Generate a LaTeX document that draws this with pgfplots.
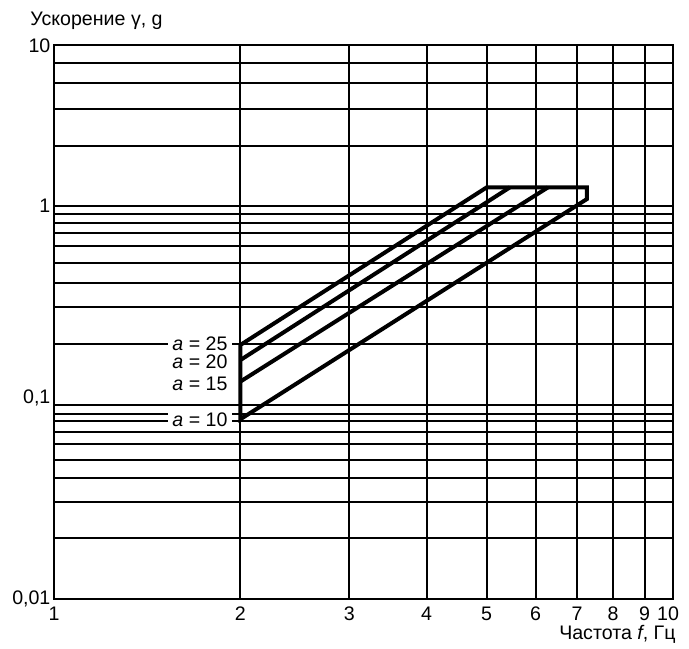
\documentclass[border=0pt]{standalone}
\usepackage{fontspec}
\setmainfont{Liberation Sans}
\usepackage{pgfplots}
\pgfplotsset{compat=1.18}
\usepackage{pgfplotstable}

% piecewise log scale of the scanned chart (decades of unequal height)
\newcommand{\U}[1]{ifthenelse(#1<=0.1, -2+(ln(#1)/2.302585+2)*1.0500, ifthenelse(#1<=1, -0.9499+(ln(#1)/2.302585+1)*1.0804, 0.1305+(ln(#1)/2.302585)*0.8695))}

% outline: a = 25 line, plateau, right edge, a = 10 line
\pgfplotstableread{
f g
2 0.2
5.0 1.30
7.26 1.30
7.26 1.10
2 0.0844
}\outline
\pgfplotstableread{
f g
2 0.168
5.45 1.30
}\atwenty
\pgfplotstableread{
f g
2 0.131
6.28 1.30
}\afifteen

\begin{document}
\begin{tikzpicture}[font=\fontsize{9.8}{11.5}\selectfont]
\path[use as bounding box] (-27pt,-24.65pt) rectangle (317.5pt,299.35pt);
\begin{axis}[
  at={(0,0)}, anchor=south west,
  scale only axis, width=309.5pt, height=276.7pt,
  xmode=log, xmin=1, xmax=10, ymin=-2, ymax=1,
  xtick={1,2,3,4,5,6,7,8,9,10},
  xticklabels={1,2,3,4,5,6,7,8,9,{\hspace*{-5pt}10}},
  minor xtick={},
  ytick={-2,-0.9499,0.1305,1},
  yticklabels={{0,01},{\raisebox{8pt}{0,1}},1,10},
  extra y ticks={0.9024,0.7973,0.6563,0.4541,0.0855,0.0383,-0.0175,-0.0896,-0.1801,-0.2869,-0.4187,-0.6192,-0.9971,-1.0366,-1.0979,-1.1597,-1.2464,-1.3456,-1.4757,-1.6725},
  extra y tick labels={},
  extra y tick style={ymajorgrids=true},
  xmajorgrids, ymajorgrids,
  major grid style={black, line width=0.9pt},
  axis line style={black, line width=1.1pt},
  major tick length=0pt, minor tick length=0pt,
  /pgf/number format/assume math mode=true,
  yticklabel style={inner xsep=1.6pt},
  xticklabel style={anchor=base, yshift=-10.7pt},
  xlabel={Частота \textit{f}, Гц},
  every axis x label/.style={at={(rel axis cs:1,0)}, anchor=east, xshift=4.8pt, yshift=-17.8pt},
  ylabel={Ускорение γ, g},
  every axis y label/.style={at={(rel axis cs:0,1)}, anchor=west, xshift=-15.3pt, yshift=12.4pt},
]
\addplot[black, line width=2pt, line join=miter] table[x=f, y expr={\U{\thisrow{g}}}] {\outline} -- cycle;
\addplot[black, line width=2pt] table[x=f, y expr={\U{\thisrow{g}}}] {\atwenty};
\addplot[black, line width=2pt] table[x=f, y expr={\U{\thisrow{g}}}] {\afifteen};
\node[anchor=east, fill=white, inner xsep=2pt, inner ysep=1pt, xshift=-4.2pt] at (axis cs:2,-0.6155) {\textit{a} = 25};
\node[anchor=east, fill=white, inner xsep=2pt, inner ysep=1pt, xshift=-4.2pt] at (axis cs:2,-0.7152) {\textit{a} = 20};
\node[anchor=east, fill=white, inner xsep=2pt, inner ysep=1pt, xshift=-4.2pt] at (axis cs:2,-0.8361) {\textit{a} = 15};
\node[anchor=east, fill=white, inner xsep=2pt, inner ysep=1pt, xshift=-4.2pt] at (axis cs:2,-1.0312) {\textit{a} = 10};
\end{axis}
\end{tikzpicture}
\end{document}
